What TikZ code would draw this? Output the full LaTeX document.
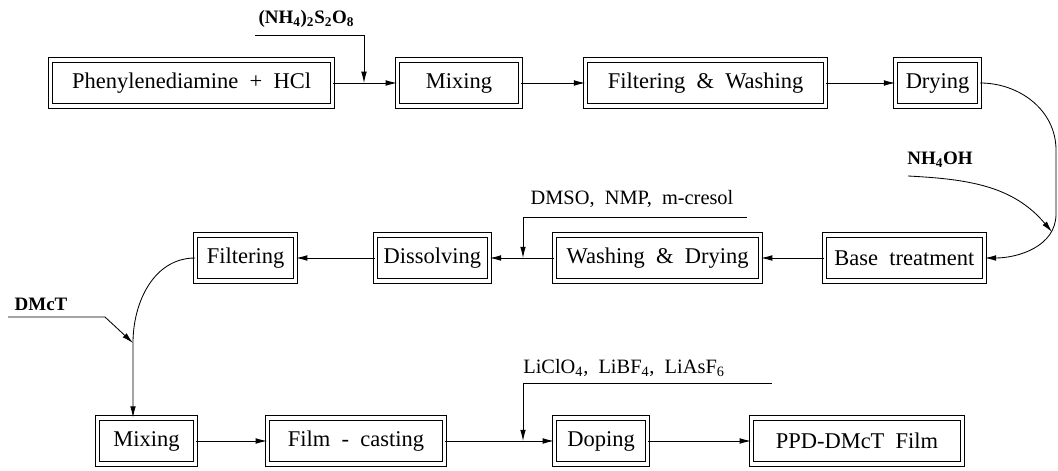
\documentclass[tikz,border=0pt]{standalone}
\usepackage{fontspec}
\setmainfont[WordSpace=2]{Liberation Serif}
\usetikzlibrary{arrows.meta}

\begin{document}
\begin{tikzpicture}[>={Latex[length=8pt,width=4pt]},semithick,
    box/.style={draw=black,double,double distance=2.4pt,minimum height=1.15cm,inner sep=0pt,font=\fontsize{16}{19}\selectfont},
    chem/.style={inner sep=0pt,font=\fontsize{14.5}{17}\selectfont}]
    \useasboundingbox (0,0) rectangle (26.45,11.75);
    % process steps
    \node[box,minimum width=7.05cm] (1) at (4.79,9.675) {Phenylenediamine + HCl};
    \node[box,minimum width=3.08cm] (2) at (11.475,9.675) {Mixing};
    \node[box,minimum width=6.0cm] (3) at (17.64,9.675) {Filtering \& Washing};
    \node[box,minimum width=2.1cm] (4) at (23.44,9.675) {Drying};
    \node[box,minimum width=4.0cm] (5) at (22.61,5.3) {Base treatment};
    \node[box,minimum width=5.15cm] (6) at (16.44,5.3) {Washing \& Drying};
    \node[box,minimum width=2.85cm] (7) at (10.81,5.3) {Dissolving};
    \node[box,minimum width=2.5cm] (8) at (6.14,5.3) {Filtering};
    \node[box,minimum width=2.45cm] (9) at (3.66,0.725) {Mixing};
    \node[box,minimum width=4.43cm] (10) at (8.9,0.725) {Film - casting};
    \node[box,minimum width=2.33cm] (11) at (15.025,0.725) {Doping};
    \node[box,minimum width=5.28cm] (12) at (21.425,0.725) {PPD-DMcT Film};
    % reagents
    \node[chem,font=\fontsize{13.5}{16}\selectfont\bfseries] (a) at (7.66,11.275) {(NH\textsubscript{4})\textsubscript{2}S\textsubscript{2}O\textsubscript{8}};
    \node[chem,font=\fontsize{13.5}{16}\selectfont\bfseries] (b) at (23.5,7.75) {NH\textsubscript{4}OH};
    \node[chem] (c) at (15.8,6.775) {DMSO, NMP, m-cresol};
    \node[chem,font=\fontsize{13.5}{16}\selectfont\bfseries] (d) at (1.025,4.15) {DMcT};
    \node[chem] (e) at (15.6,2.55) {LiClO\textsubscript{4}, LiBF\textsubscript{4}, LiAsF\textsubscript{6}};
    \coordinate (r1) at (6.375,10.875);
    \coordinate (j1) at (9.1,9.675);
    \coordinate (r2) at (22.7,7.35);
    \coordinate (t2) at (26.3,5.95);
    \coordinate (r3) at (18.675,6.325);
    \coordinate (j3) at (13.075,5.3);
    \coordinate (r4) at (0.2,3.825);
    \coordinate (j4) at (3.325,3.175);
    \coordinate (r5) at (19.3,2.175);
    \coordinate (j5) at (13.075,0.725);
    % flow
    \path[->](1) edge node {} (2);
    \path[->](2) edge node {} (3);
    \path[->](3) edge node {} (4);
    \draw[->] (4.east) to[out=0,in=90] (26.4,8.0) -- (26.4,6.4) to[out=-90,in=0] (5.east);
    \path[->](5) edge node {} (6);
    \path[->](6) edge node {} (7);
    \path[->](7) edge node {} (8);
    \draw[->] (8.west) to[out=180,in=90] (j4) -- (j4 |- 9.north);
    \path[->](9) edge node {} (10);
    \path[->](10) edge node {} (11);
    \path[->](11) edge node {} (12);
    % additions
    \draw[->] (r1) -| (j1);
    \draw[->] (r2) to[out=-3,in=130] (t2);
    \draw[->] (r3) -| (j3);
    \draw[->] (r4) -- (2.625,3.825) -- (j4);
    \draw[->] (r5) -| (j5);
\end{tikzpicture}
\end{document}
